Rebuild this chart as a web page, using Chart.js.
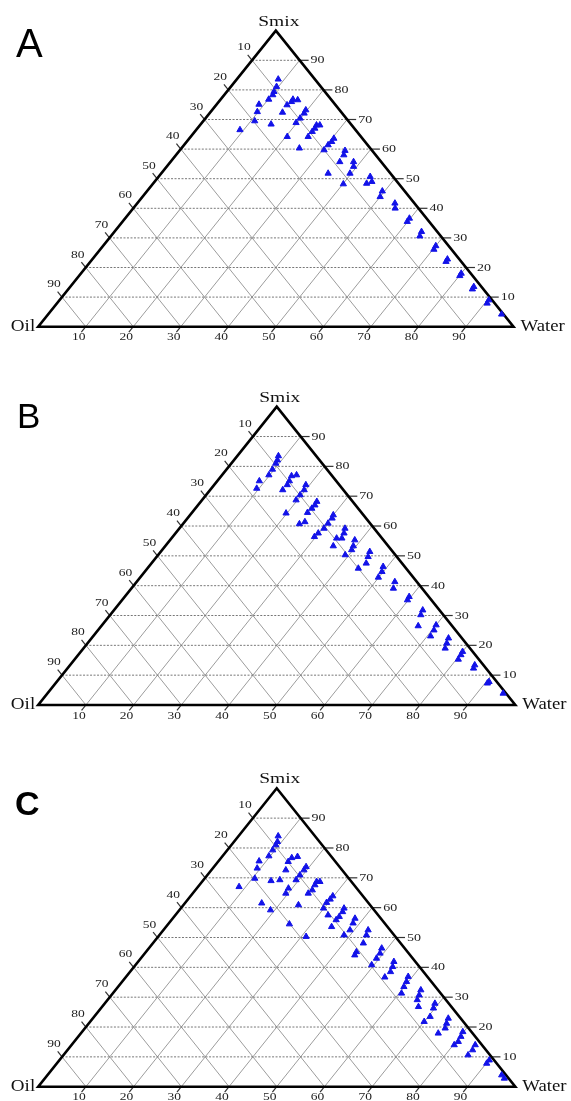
<!DOCTYPE html>
<html>
<head>
<meta charset="utf-8">
<script src="https://cdn.jsdelivr.net/npm/chart.js@4.4.0/dist/chart.umd.min.js"></script>
<style>
  html, body { margin: 0; padding: 0; background: #fff; }
  #wrap { position: relative; width: 571px; height: 1101px; overflow: hidden; }
  #wrap canvas { position: absolute; left: 0; }
</style>
</head>
<body>
<div id="wrap">
  <canvas id="chart-a" width="571" height="367" style="top:0px"></canvas>
  <canvas id="chart-b" width="571" height="367" style="top:367px"></canvas>
  <canvas id="chart-c" width="571" height="367" style="top:734px"></canvas>
</div>
<script>
// tick values on all three sides
const gridSteps = [10, 20, 30, 40, 50, 60, 70, 80, 90];
const cornerLabels = ['Oil', 'Water', 'Smix'];

// panel A : water % and Smix % of each point (oil = 100 - water - smix)
const waterA = [8.7, 9.6, 9.9, 10.2, 10.1, 8.9, 9.8, 10.8, 9.2,
  14.8, 15.2, 14.9, 15.3, 16.3, 15.2,
  19.7, 19.9, 19.9, 19.8, 20.3,
  24.8, 24.5, 24.7, 24.7, 24.7, 25.2,
  30.4, 30.5, 30.3, 30.3,
  35.1, 34.8, 35.3, 35.6,
  38.5, 39.3, 39.7, 40.1,
  44.5, 45.7, 44.9,
  49.5, 50.0,
  54.2, 55.1,
  59.8, 59.9,
  64.6, 65.0,
  70.0, 70.2,
  74.7, 74.8,
  80.0, 80.1,
  84.9, 85.0,
  90.3, 90.5,
  95.4];
const smixA = [83.6, 81.1, 79.4, 78.3, 76.8, 75.1, 72.6, 69.5, 66.5,
  68.4, 72.4, 74.9, 76.0, 76.6, 76.8,
  73.2, 72.1, 70.4, 68.9, 64.2,
  60.3, 68.1, 67.0, 65.9, 64.2, 68.1,
  63.6, 62.5, 61.4, 59.7,
  51.8, 59.5, 58.0, 55.7,
  55.7, 54.1, 51.8, 48.2,
  50.7, 49.0, 48.4,
  45.8, 43.9,
  41.7, 40.0,
  36.6, 35.5,
  32.1, 30.6,
  27.3, 26.1,
  22.8, 22.0,
  18.0, 17.2,
  13.5, 12.7,
  9.0, 7.9,
  4.2];

// panel B
const waterB = [8.6, 9.1, 9.3, 9.6, 9.8, 8.8, 9.5,
  15.1, 14.7, 15.6, 15.3, 15.2,
  19.2, 19.7, 19.7, 19.7, 19.8,
  24.3, 24.5, 24.4, 24.2, 25.2, 24.4,
  30.0, 30.3, 30.3, 30.3, 29.9, 29.7,
  34.7, 35.3, 35.7, 34.6, 35.2,
  38.7, 39.4, 39.7, 39.2,
  43.8, 44.3, 45.0, 44.2,
  49.1, 49.7, 49.9,
  54.1, 54.9,
  59.6, 59.8,
  64.7, 65.1, 66.4,
  70.0, 70.4, 70.7,
  74.8, 75.3, 75.8,
  80.0, 80.2, 80.4,
  84.8, 85.1,
  90.6, 90.5,
  95.5];
const smixB = [83.5, 82.1, 81.0, 79.0, 77.1, 75.1, 72.6,
  75.1, 76.8, 77.1, 73.8, 72.1,
  73.8, 72.1, 70.4, 68.7, 64.3,
  68.2, 67.0, 65.9, 64.5, 61.4, 60.7,
  63.7, 62.6, 60.9, 59.2, 57.6, 56.4,
  59.2, 57.6, 55.9, 55.9, 53.3,
  55.3, 53.3, 52.0, 50.3,
  51.4, 49.7, 47.5, 45.8,
  46.4, 44.7, 42.8,
  41.3, 39.1,
  36.3, 35.2,
  31.8, 30.2, 26.5,
  26.8, 25.1, 23.1,
  22.4, 20.7, 19.0,
  17.9, 16.8, 15.3,
  13.4, 12.3,
  7.8, 7.3,
  3.9];

// panel C
const waterC = [8.3, 9.1, 9.3, 9.5, 9.7, 8.5, 9.3, 10.5, 8.6,
  14.3, 16.0, 15.6, 14.7, 14.8, 15.8, 16.1,
  19.3, 19.4, 19.4, 19.4, 19.2, 19.5, 19.1,
  24.0, 24.2, 24.5, 24.2, 24.1, 24.7, 25.4,
  29.8, 29.8, 29.6, 29.9, 32.0, 31.0,
  34.2, 34.5, 34.6, 34.5, 34.7,
  38.2, 38.6, 39.1, 38.7,
  42.9, 43.4, 44.1, 44.1, 44.3,
  48.8, 49.3, 49.4, 49.5,
  53.6, 54.2, 54.6, 54.3,
  59.1, 59.6, 59.9, 60.5,
  64.0, 64.5, 64.9, 66.3,
  69.2, 69.7, 70.4, 70.0,
  74.5, 75.0, 75.5, 74.9,
  79.8, 80.2, 80.5, 80.2,
  84.6, 84.9, 84.8,
  90.1, 90.1,
  95.2, 96.3];
const smixC = [84.0, 82.1, 81.0, 79.3, 77.3, 75.6, 73.2, 69.8, 67.0,
  69.0, 69.3, 72.6, 75.4, 76.7, 77.1, 61.5,
  73.7, 72.6, 70.9, 69.3, 66.5, 64.8, 59.2,
  68.7, 67.6, 65.9, 64.8, 60.9, 68.7, 54.5,
  63.9, 62.8, 61.7, 59.8, 57.5, 50.3,
  59.8, 58.6, 57.0, 55.9, 53.6,
  56.4, 54.8, 52.5, 50.8,
  52.5, 50.8, 48.1, 45.2, 44.1,
  46.4, 44.7, 43.0, 40.8,
  41.9, 40.2, 38.5, 36.7,
  36.9, 35.2, 33.5, 31.3,
  32.4, 30.7, 29.1, 26.8,
  27.9, 26.3, 23.5, 21.8,
  22.9, 21.2, 19.6, 17.9,
  18.4, 16.8, 15.1, 14.0,
  14.0, 12.3, 10.6,
  8.9, 7.8,
  3.9, 2.8];

const SERIF = "'Liberation Serif', 'DejaVu Serif', serif";
const SANS = "'Liberation Sans', Arial, sans-serif";

function drawStretched(ctx, text, x, y, sx, align) {
  ctx.save();
  ctx.translate(x, y);
  ctx.scale(sx, 1);
  ctx.textAlign = align;
  ctx.fillText(text, 0, 0);
  ctx.restore();
}

const ternaryPlugin = {
  id: 'ternary',
  beforeDatasetsDraw(chart, args, opts) {
    const ctx = chart.ctx;
    const xs = chart.scales.x;
    const ys = chart.scales.y;
    // (water, smix) -> pixel
    const pt = (w, s) => [xs.getPixelForValue(w + s / 2), ys.getPixelForValue(s)];
    const unit = (a, b) => {
      const dx = a[0] - b[0], dy = a[1] - b[1];
      const l = Math.hypot(dx, dy);
      return [dx / l, dy / l];
    };
    const line = (a, b) => {
      ctx.beginPath();
      ctx.moveTo(a[0], a[1]);
      ctx.lineTo(b[0], b[1]);
      ctx.stroke();
    };

    ctx.save();
    // diagonal grid
    ctx.lineWidth = 1;
    ctx.strokeStyle = '#9c9c9c';
    gridSteps.forEach(k => {
      line(pt(0, 100 - k), pt(100 - k, 0));
      line(pt(k, 0), pt(k, 100 - k));
    });
    // horizontal dotted grid
    ctx.strokeStyle = '#777';
    ctx.setLineDash([2, 1.5]);
    gridSteps.forEach(k => line(pt(0, k), pt(100 - k, k)));
    ctx.setLineDash([]);

    // ticks and tick labels
    ctx.strokeStyle = '#333';
    ctx.fillStyle = '#222';
    ctx.lineWidth = 1.2;
    ctx.font = '10px ' + SERIF;
    ctx.textBaseline = 'middle';
    gridSteps.forEach(k => {
      // Smix, right side
      const r = pt(100 - k, k);
      line(r, [r[0] + 9, r[1]]);
      drawStretched(ctx, String(k), r[0] + 11, r[1] + 0.5, 1.4, 'left');
      // Oil, left side
      const l = pt(0, 100 - k);
      const dl = unit(l, pt(100 - k, 0));
      line(l, [l[0] + dl[0] * 7, l[1] + dl[1] * 7]);
      drawStretched(ctx, String(k), l[0] - 8, l[1] - 12.5, 1.35, 'center');
      // Water, bottom
      const b = pt(k, 0);
      const db = unit(b, pt(k, 100 - k));
      line(b, [b[0] + db[0] * 7, b[1] + db[1] * 7]);
      drawStretched(ctx, String(k), b[0] - 7, b[1] + 11, 1.35, 'center');
    });

    // outline
    const oil = pt(0, 0), water = pt(100, 0), apex = pt(0, 100);
    ctx.strokeStyle = '#000';
    ctx.lineWidth = 2.6;
    ctx.lineJoin = 'miter';
    ctx.beginPath();
    ctx.moveTo(oil[0], oil[1]);
    ctx.lineTo(water[0], water[1]);
    ctx.lineTo(apex[0], apex[1]);
    ctx.closePath();
    ctx.stroke();

    // corner labels
    ctx.fillStyle = '#111';
    ctx.font = '17px ' + SERIF;
    drawStretched(ctx, cornerLabels[0], oil[0] - 3, oil[1], 1.12, 'right');
    drawStretched(ctx, cornerLabels[1], water[0] + 7, water[1], 1.1, 'left');
    ctx.font = '15px ' + SERIF;
    drawStretched(ctx, cornerLabels[2], apex[0] + 3, apex[1] - 9, 1.3, 'center');

    // panel letter
    ctx.fillStyle = '#000';
    ctx.font = opts.letterFont;
    ctx.textBaseline = 'alphabetic';
    ctx.textAlign = 'left';
    ctx.fillText(opts.letter, opts.letterX, opts.letterY);
    ctx.restore();
  }
};

const panels = [
  { id: 'chart-a', letter: 'A', water: waterA, smix: smixA,
    pad: { top: 30.7, bottom: 40.3, left: 38.2, right: 57.5 },
    letterFont: '40px ' + SANS, letterX: 16, letterY: 57 },
  { id: 'chart-b', letter: 'B', water: waterB, smix: smixB,
    pad: { top: 39.7, bottom: 29, left: 38.2, right: 55.7 },
    letterFont: '35px ' + SANS, letterX: 17, letterY: 61.3 },
  { id: 'chart-c', letter: 'C', water: waterC, smix: smixC,
    pad: { top: 54.3, bottom: 14.3, left: 38.2, right: 55.7 },
    letterFont: 'bold 34px ' + SANS, letterX: 15, letterY: 81 }
];

document.addEventListener('DOMContentLoaded', () => {
  panels.forEach(p => {
    const ctx = document.getElementById(p.id).getContext('2d');
    new Chart(ctx, {
      type: 'scatter',
      data: {
        datasets: [{
          data: p.water.map((w, i) => ({ x: w + p.smix[i] / 2, y: p.smix[i] })),
          pointStyle: 'triangle',
          pointRadius: 3.6,
          backgroundColor: '#1212e8',
          borderColor: '#1212e8',
          borderWidth: 1,
          clip: false
        }]
      },
      options: {
        responsive: false,
        animation: false,
        devicePixelRatio: 1,
        layout: { padding: p.pad },
        scales: {
          x: { type: 'linear', min: 0, max: 100, display: false },
          y: { type: 'linear', min: 0, max: 100, display: false }
        },
        plugins: {
          legend: { display: false },
          tooltip: { enabled: false },
          ternary: { letter: p.letter, letterFont: p.letterFont, letterX: p.letterX, letterY: p.letterY }
        }
      },
      plugins: [ternaryPlugin]
    });
  });
});
</script>
</body>
</html>
